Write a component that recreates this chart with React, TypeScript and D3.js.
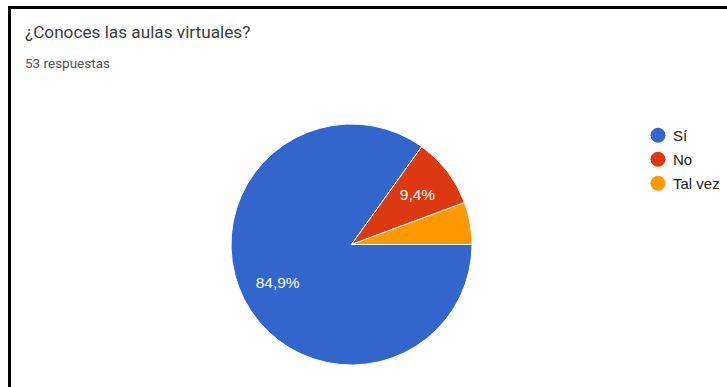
import React from "react";
import * as d3 from "d3";

const categories = ["Sí", "No", "Tal vez"];
const counts = [45, 5, 3];
const colors = ["#3366cc", "#dc3912", "#ff9900"];
const title = "¿Conoces las aulas virtuales?";
const subtitle = "53 respuestas";

export default function App() {
  const W = 727, H = 387;
  const cx = 351.5, cy = 244.5, r = 120.5;
  const total = d3.sum(counts);
  const pie = d3.pie<number>().sort(null).startAngle(Math.PI / 2).endAngle(Math.PI / 2 + 2 * Math.PI);
  const arcs = pie(counts);
  const arc = d3.arc<d3.PieArcDatum<number>>().innerRadius(0).outerRadius(r);
  const labelArc = d3.arc<d3.PieArcDatum<number>>().innerRadius(166).outerRadius(0);
  const fmt = (v: number) => (Math.round((v / total) * 1000) / 10).toFixed(1).replace(".", ",") + "%";
  const arial = "'Liberation Sans', Arial, sans-serif";
  return (
    <svg width={W} height={H} style={{ position: "absolute", left: 0, top: 0 }} fontFamily="Roboto, Arial, sans-serif">
      <rect width={W} height={H} fill="#fff" />
      <rect x={8} y={6} width={W - 8} height={3} fill="#000" />
      <rect x={8} y={6} width={3} height={H - 6} fill="#000" />
      <text x={25} y={38} fontSize={17.2} fill="#3c3c3c">{title}</text>
      <text x={25} y={68} fontSize={13.5} fill="#555">{subtitle}</text>
      <g transform={`translate(${cx},${cy})`}>
        {arcs.map((a, i) => (
          <path key={i} d={arc(a) || ""} fill={colors[i]} stroke="#fff" strokeWidth={1} />
        ))}
        {arcs.map((a, i) => {
          if (a.value / total < 0.08) return null;
          const [x, y] = labelArc.centroid(a);
          return (
            <text key={"l" + i} x={x} y={y} dy="0.36em" textAnchor="middle" fontSize={15.5} fontFamily={arial} fill="#fff">
              {fmt(a.value)}
            </text>
          );
        })}
      </g>
      {categories.map((c, i) => (
        <g key={c} transform={`translate(658,${135.3 + i * 24})`}>
          <circle r={7.5} fill={colors[i]} />
          <text x={15} dy="0.36em" fontSize={15} fontFamily={arial} fill="#222">{c}</text>
        </g>
      ))}
    </svg>
  );
}
